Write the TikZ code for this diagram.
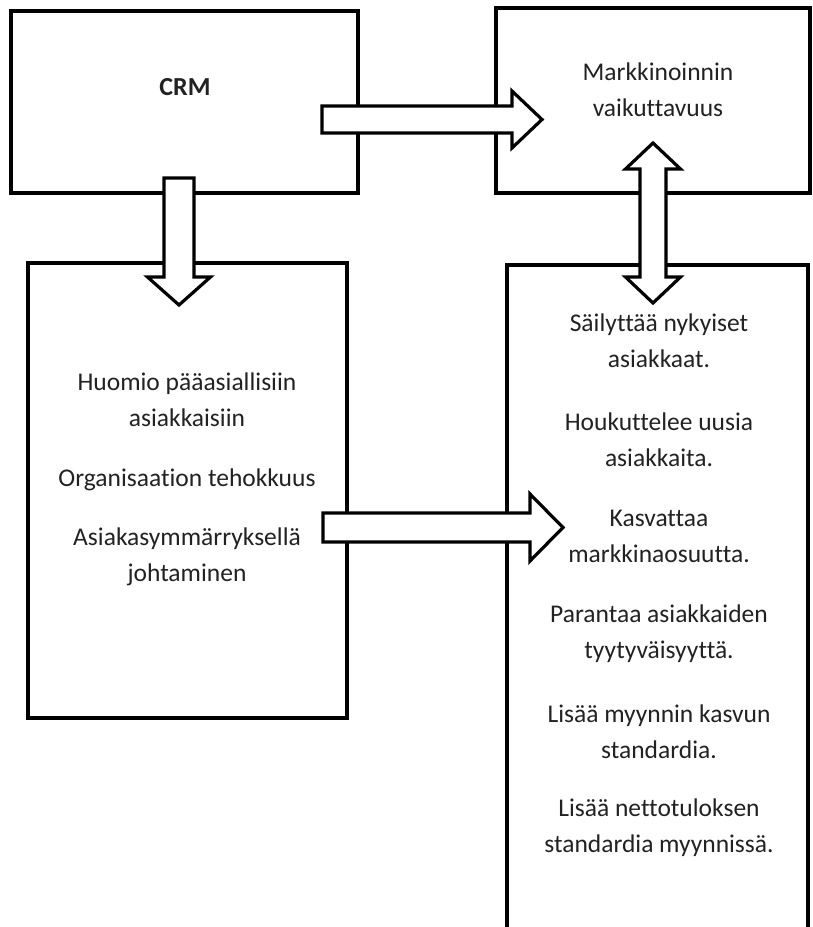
\documentclass[tikz,border=0pt]{standalone}
\usepackage{fontspec}
\setmainfont{Carlito}[Ligatures={NoCommon,NoContextual}, Contextuals=NoAlternate]
\usetikzlibrary{calc}
\definecolor{ink}{HTML}{222222}

% block arrow: tail coordinate, angle, length, shaft half width, head half width, head length
\newcommand\blockarrow[6]{%
  \begin{scope}[shift={(#1)}, rotate=#2]
    \draw[barrow] (0,-#4) -- ({#3-#6},-#4) -- ({#3-#6},-#5) -- (#3,0)
      -- ({#3-#6},#5) -- ({#3-#6},#4) -- (0,#4) -- cycle;
  \end{scope}}
% two-headed block arrow: first tip, angle, length, shaft half, head half, head length
\newcommand\dblockarrow[6]{%
  \begin{scope}[shift={(#1)}, rotate=#2]
    \draw[barrow] (0,0) -- (#6,-#5) -- (#6,-#4) -- ({#3-#6},-#4) -- ({#3-#6},-#5)
      -- (#3,0) -- ({#3-#6},#5) -- ({#3-#6},#4) -- (#6,#4) -- (#6,#5) -- cycle;
  \end{scope}}

\tikzset{
  box/.style={draw=black, line width=3.2pt, fill=white, inner sep=0pt},
  barrow/.style={draw=black, line width=3.2pt, fill=white, line join=miter},
  txt/.style={text=ink, align=center, inner sep=0pt,
    font=\fontsize{25.5}{36}\selectfont},
}

\begin{document}
\begin{tikzpicture}[x=1pt, y=-1pt]
  \useasboundingbox (0,0) rectangle (812,927);
  \clip (0,0) rectangle (812,927);
  \fill[white] (0,0) rectangle (812,927);

  % boxes
  \node[box, minimum width=347pt, minimum height=182pt] (crm) at (184.5,102) {};
  \node[box, minimum width=314pt, minimum height=185pt] (mv) at (653,100.5) {};
  \node[box, minimum width=319pt, minimum height=455pt] (lbox) at (187.5,490.5) {};
  \node[box, minimum width=301pt, minimum height=665pt] (rbox) at (657.5,597.5) {};

  % texts
  \node[txt, font=\fontsize{26}{36}\selectfont\bfseries] (crmtxt) at (185,87) {CRM};
  \node[txt] (mvtxt) at (658,89.5) {Markkinoinnin\\vaikuttavuus};

  \node[txt] (l1) at (187,400) {Huomio pääasiallisiin\\asiakkaisiin};
  \node[txt] (l2) at (187,480) {Organisaation tehokkuus};
  \node[txt] (l3) at (187,556.5) {Asiakasymmärryksellä\\johtaminen};

  \node[txt] (r1) at (659,340.5) {Säilyttää nykyiset\\asiakkaat.};
  \node[txt] (r2) at (659,439.5) {Houkuttelee uusia\\asiakkaita.};
  \node[txt] (r3) at (659,536.5) {Kasvattaa\\markkinaosuutta.};
  \node[txt] (r4) at (659,633.5) {Parantaa asiakkaiden\\tyytyväisyyttä.};
  \node[txt] (r5) at (659,731.5) {Lisää myynnin kasvun\\standardia.};
  \node[txt] (r6) at (659,827.5) {Lisää nettotuloksen\\standardia myynnissä.};

  % arrow anchors
  \coordinate (crmE) at (322,119.5);
  \coordinate (crmS) at (179,178);
  \coordinate (mvS)  at (653,143);
  \coordinate (lboxE) at (323,527.5);

  % arrows
  \blockarrow{crmE}{0}{220}{13.5}{28.5}{30}
  \blockarrow{crmS}{-90}{127}{15}{31.5}{28}
  \dblockarrow{mvS}{-90}{160}{13}{27.5}{26}
  \blockarrow{lboxE}{0}{240}{14.5}{33.5}{33}
\end{tikzpicture}
\end{document}
